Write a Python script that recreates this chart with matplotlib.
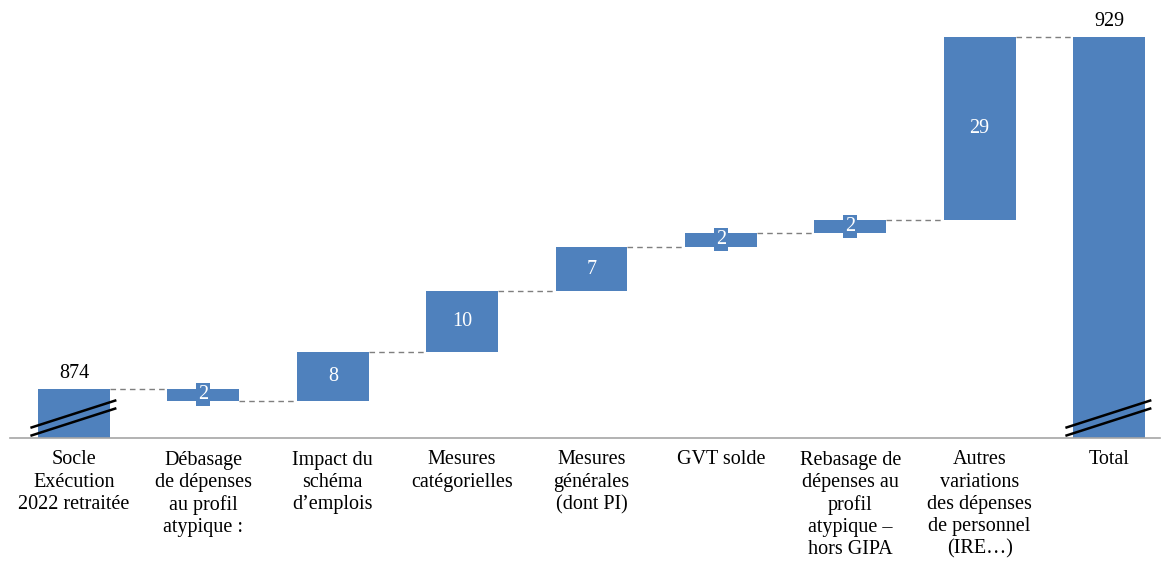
import numpy as np
import matplotlib.pyplot as plt

# Data
categories = ["Socle\nExécution\n2022 retraitée",
              "Débasage\nde dépenses\nau profil\natypique :",
              "Impact du\nschéma\nd’emplois",
              "Mesures\ncatégorielles",
              "Mesures\ngénérales\n(dont PI)",
              "GVT solde",
              "Rebasage de\ndépenses au\nprofil\natypique –\nhors GIPA",
              "Autres\nvariations\ndes dépenses\nde personnel\n(IRE…)",
              "Total"]
start_value = 874
deltas = [-1.9, 7.7, 9.4, 7.0, 2.2, 2.0, 28.6]
delta_labels = ["2", "8", "10", "7", "2", "2", "29"]
total_value = 929

blue = "#4F81BD"
fs = 14.5
plt.rcParams['font.family'] = ['Liberation Serif', 'DejaVu Serif']

fig = plt.figure(figsize=(11.61, 5.62), dpi=100)
ax = fig.add_axes([10 / 1161, 124 / 562, 1150 / 1161, 428 / 562])

ymin = 866.3
width = 0.556
n = len(categories)
x = np.arange(n)

# running totals
levels = [start_value]
for d in deltas:
    levels.append(levels[-1] + d)

# first and total bars
ax.bar(x[0], start_value - ymin, bottom=ymin, width=width, color=blue)
ax.bar(x[-1], total_value - ymin, bottom=ymin, width=width, color=blue)
ax.text(x[0], start_value + 0.9, str(start_value), ha='center', va='bottom', fontsize=fs)
ax.text(x[-1], total_value + 0.9, str(total_value), ha='center', va='bottom', fontsize=fs)

# floating bars
for i, d in enumerate(deltas):
    lo = min(levels[i], levels[i + 1])
    ax.bar(x[i + 1], abs(d), bottom=lo, width=width, color=blue)
    mid = lo + abs(d) / 2
    if abs(d) < 3:
        ax.text(x[i + 1], mid, delta_labels[i], ha='center', va='center', color='white',
                fontsize=fs, bbox=dict(boxstyle='square,pad=0.1', fc=blue, ec='none'))
    else:
        ax.text(x[i + 1], mid, delta_labels[i], ha='center', va='center', color='white', fontsize=fs)

# connectors
for i in range(n - 1):
    ax.plot([x[i] + width / 2, x[i + 1] - width / 2], [levels[i], levels[i]],
            ls=(0, (4, 3)), color='#7F7F7F', lw=1)

# break marks
for xi in (x[0], x[-1]):
    for off in (0.0, 1.25):
        ax.plot([xi - width / 2 - 0.05, xi + width / 2 + 0.04],
                [ymin + 0.4 + off, ymin + 4.6 + off], color='black', lw=1.8, clip_on=False)

ax.set_xlim(-0.495, 8.394)
ax.set_ylim(ymin, 933.2)
ax.set_xticks(x)
ax.set_xticklabels(categories, fontsize=fs, linespacing=1.23, va='top')
ax.tick_params(axis='x', length=0, pad=9)
ax.set_yticks([])
for s in ('top', 'right', 'left'):
    ax.spines[s].set_visible(False)
ax.spines['bottom'].set_color('#A6A6A6')
ax.spines['bottom'].set_linewidth(1.2)

plt.savefig("out.png", dpi=100)
